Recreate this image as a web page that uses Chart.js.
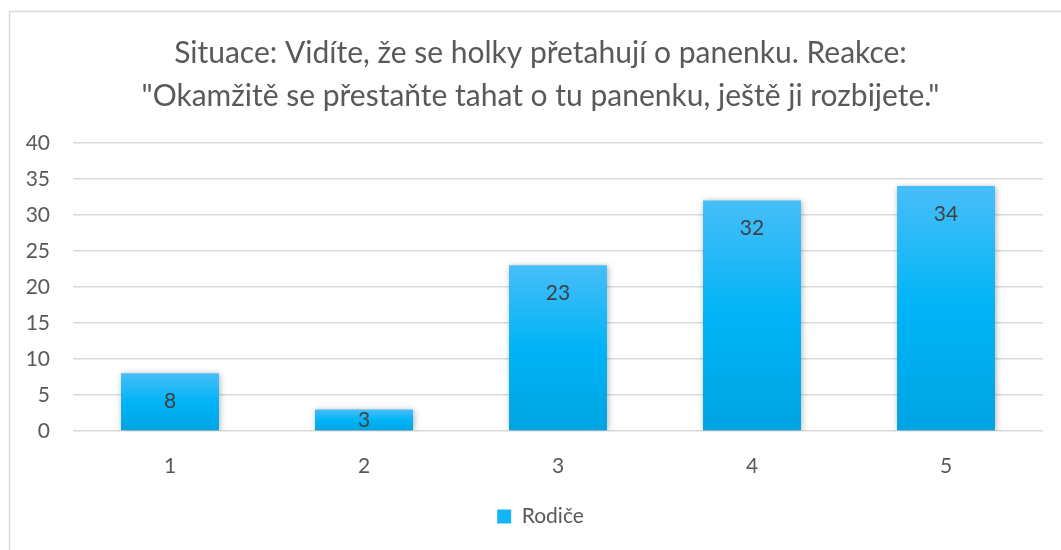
<!DOCTYPE html>
<html>
<head>
<meta charset="utf-8">
<script src="https://cdn.jsdelivr.net/npm/chart.js"></script>
<style>
  body { margin: 0; background: #fff; }
  #wrap { width: 1061px; height: 550px; position: relative; }
</style>
</head>
<body>
<div id="wrap"><canvas id="situaceChart"></canvas></div>
<script>
const categories = ["1", "2", "3", "4", "5"];
const rodice = [8, 3, 23, 32, 34];
const yMin = 0;
const yMax = 40;
const yStep = 5;
const titleLines = [
  "Situace: Vidíte, že se holky přetahují o panenku. Reakce:",
  "\"Okamžitě se přestaňte tahat o tu panenku, ještě ji rozbijete.\""
];

const FONT = "Lato";
const TEXT_GREY = "#595959";

// vertical gradient per bar, light at the top, deeper blue at the base
function barFill(c) {
  const chart = c.chart;
  if (!chart.chartArea || c.raw === undefined) return "#00b4f5";
  const y = chart.scales.y;
  const top = y.getPixelForValue(c.raw);
  const bottom = y.getPixelForValue(0);
  const g = chart.ctx.createLinearGradient(0, top, 0, bottom);
  g.addColorStop(0, "#47bef9");
  g.addColorStop(0.5, "#00b4f6");
  g.addColorStop(1, "#00a4e2");
  return g;
}

// white page with the light grey frame
const frame = {
  id: "frame",
  beforeDraw(chart) {
    const ctx = chart.ctx;
    ctx.save();
    ctx.fillStyle = "#fff";
    ctx.fillRect(0, 0, chart.width, chart.height);
    ctx.strokeStyle = "#d9d9d9";
    ctx.lineWidth = 1.5;
    ctx.strokeRect(9.5, 11.5, chart.width + 20, chart.height + 20);
    ctx.restore();
  }
};

// soft drop shadow behind the bars
const barShadow = {
  id: "barShadow",
  beforeDatasetsDraw(chart) {
    const ctx = chart.ctx;
    ctx.save();
    ctx.shadowColor = "rgba(0,0,0,0.3)";
    ctx.shadowBlur = 6;
    ctx.shadowOffsetX = 1;
    ctx.shadowOffsetY = 1;
  },
  afterDatasetsDraw(chart) {
    chart.ctx.restore();
  }
};

// value printed inside the top end of each bar
const valueLabels = {
  id: "valueLabels",
  afterDraw(chart) {
    const ctx = chart.ctx;
    const meta = chart.getDatasetMeta(0);
    ctx.save();
    ctx.font = "21px " + FONT;
    ctx.fillStyle = "#404040";
    ctx.textAlign = "center";
    ctx.textBaseline = "middle";
    meta.data.forEach((bar, i) => {
      const h = bar.base - bar.y;
      const y = h < 56 ? (bar.y + bar.base) / 2 : bar.y + 28;
      ctx.fillText(String(rodice[i]), bar.x, y);
    });
    ctx.restore();
  }
};

new Chart(document.getElementById("situaceChart"), {
  type: "bar",
  data: {
    labels: categories,
    datasets: [{
      label: "Rodiče",
      data: rodice,
      backgroundColor: barFill,
      borderWidth: 0,
      barPercentage: 0.505,
      categoryPercentage: 1
    }]
  },
  options: {
    responsive: true,
    maintainAspectRatio: false,
    animation: false,
    layout: { padding: { left: 20, right: 0, top: 0, bottom: 13 } },
    plugins: {
      title: {
        display: true,
        text: titleLines,
        color: TEXT_GREY,
        font: { family: FONT, size: 30, weight: "normal", lineHeight: 1.43 },
        padding: { top: 32, bottom: 25 }
      },
      legend: {
        position: "bottom",
        labels: {
          boxWidth: 14,
          boxHeight: 14,
          padding: 10,
          color: TEXT_GREY,
          font: { family: FONT, size: 21 },
          generateLabels(chart) {
            const items = Chart.defaults.plugins.legend.labels.generateLabels(chart);
            items.forEach(it => { it.fillStyle = "#14b5f4"; it.strokeStyle = "#14b5f4"; it.lineWidth = 0; });
            return items;
          }
        }
      },
      tooltip: { enabled: false }
    },
    scales: {
      x: {
        grid: { display: false },
        border: { display: false },
        ticks: { color: TEXT_GREY, font: { family: FONT, size: 21 }, padding: 15 },
        afterFit(s) { s.height = 65; }
      },
      y: {
        min: yMin,
        max: yMax,
        grid: { color: "#d9d9d9", lineWidth: 1.5, drawTicks: false },
        border: { display: false },
        ticks: { stepSize: yStep, color: TEXT_GREY, font: { family: FONT, size: 21 }, padding: 23 },
        afterFit(s) { s.width = 53; }
      },
      // empty right-hand gutter so the plot stops short of the frame edge
      gutter: {
        position: "right",
        min: yMin,
        max: yMax,
        grid: { display: false },
        border: { display: false },
        ticks: { display: false },
        afterFit(s) { s.width = 18; }
      }
    }
  },
  plugins: [frame, barShadow, valueLabels]
});
</script>
</body>
</html>
